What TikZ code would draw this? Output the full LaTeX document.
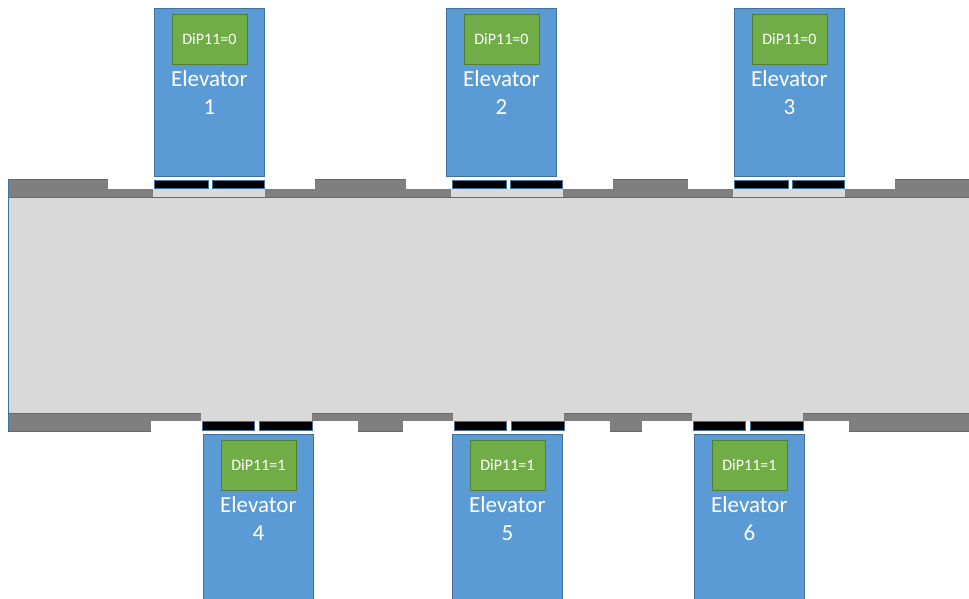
\documentclass[tikz,border=0pt]{standalone}
\usepackage{fontspec}
\setmainfont{Carlito}
\usepackage{xcolor}
\usepackage{tikz}
\usetikzlibrary{positioning}

\definecolor{carblue}{HTML}{5B9BD5}
\definecolor{edgeblue}{HTML}{41719C}
\definecolor{dipgreen}{HTML}{70AD47}
\definecolor{dipedge}{HTML}{507E32}
\definecolor{wallgray}{HTML}{7F7F7F}
\definecolor{floorgray}{HTML}{D9D9D9}

\begin{document}
\begin{tikzpicture}[
      x=1pt, y=-1pt,
      wall/.style={draw=edgeblue, line width=0.8pt, fill=wallgray},
      floor/.style={draw=edgeblue, line width=0.8pt, fill=floorgray},
      panel/.style={draw=edgeblue, line width=0.8pt, fill=black},
      car/.style={rectangle, draw=edgeblue, line width=0.8pt, fill=carblue, minimum width=110pt, minimum height=168pt, anchor=north west, inner sep=0pt},
      dip/.style={rectangle, draw=dipedge, line width=0.8pt, fill=dipgreen, minimum width=75pt, minimum height=50pt, inner sep=0pt, text=white, font=\fontsize{16}{19}\selectfont},
      carlabel/.style={align=center, inner sep=0pt, text=white, font=\fontsize{23}{27.5}\selectfont}
    ]
      \useasboundingbox (0,0) rectangle (969,599);
      \clip (0,0) rectangle (969,599);

      % corridor and walls
      \draw[floor] (8,197) rectangle (990,413);
      \draw[wall] (8,179) rectangle (990,197);
      \draw[wall] (8,413) rectangle (990,431);

      % upper doors
      \foreach \l in {153, 451, 733} {
        \fill[white] (\l-45,178) rectangle (\l+162,188.5);
        \fill[floorgray] (\l,188.5) rectangle (\l+112,196.6);
        \draw[panel] (\l+1,180) rectangle (\l+55,188);
        \draw[panel] (\l+59,180) rectangle (\l+111,188);
      }

      % lower doors
      \foreach \l in {201, 453, 692} {
        \fill[white] (\l-50,421) rectangle (\l+157,432);
        \fill[floorgray] (\l,413.4) rectangle (\l+111,421);
        \draw[panel] (\l+1,421) rectangle (\l+53,430);
        \draw[panel] (\l+58,421) rectangle (\l+111,430);
      }

      % cars
      \foreach \n/\x/\y/\bit in {1/154/8/0, 2/446/8/0, 3/734/8/0, 4/203/434/1, 5/452/434/1, 6/694/434/1} {
        \node[car] (e\n) at (\x,\y) {};
        \node[dip, below=6pt of e\n.north] (d\n) {DiP11=\bit};
        \node[carlabel, below=6pt of d\n] (l\n) {Elevator\\\n};
      }
    \end{tikzpicture}
\end{document}
